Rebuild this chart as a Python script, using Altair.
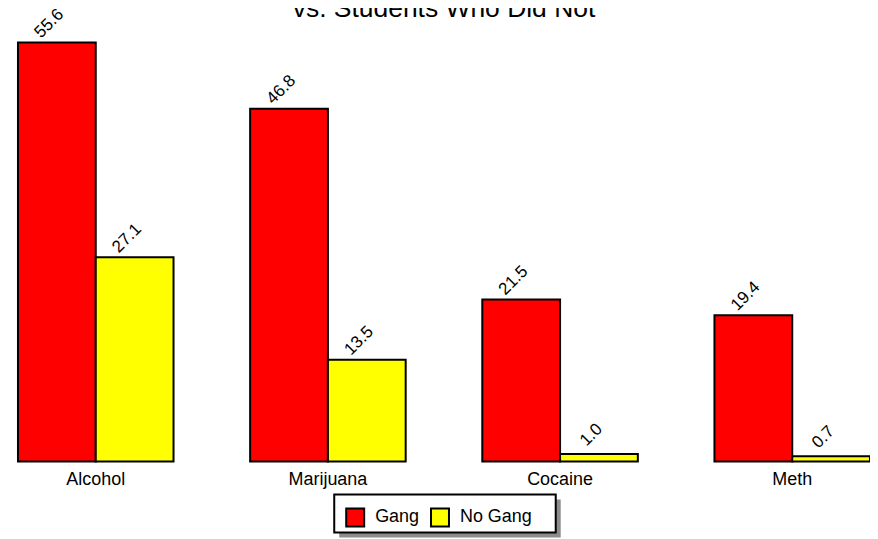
import altair as alt
import pandas as pd

categories = ["Alcohol", "Marijuana", "Cocaine", "Meth"]
gang = [55.6, 46.8, 21.5, 19.4]
no_gang = [27.1, 13.5, 1.0, 0.7]
groups = ["Gang", "No Gang"]
colors = ["#ff0000", "#ffff00"]
title_text = "vs. Students Who Did Not"

rows = []
for c, g, n in zip(categories, gang, no_gang):
    rows.append({"Category": c, "Group": groups[0], "Value": g})
    rows.append({"Category": c, "Group": groups[1], "Value": n})
df = pd.DataFrame(rows)

FONT = "Liberation Sans"
W, H = 854, 420

x_enc = alt.X(
    "Category:N",
    sort=categories,
    scale=alt.Scale(paddingInner=0.33, paddingOuter=0),
    axis=alt.Axis(
        title=None, labelAngle=0, ticks=False, tickSize=0, domain=False, grid=False,
        labelFontSize=18, labelFont=FONT, labelColor="black", labelPadding=9,
    ),
)
xoff = alt.XOffset("Group:N", sort=groups, scale=alt.Scale(paddingInner=0, paddingOuter=0))
y_enc = alt.Y("Value:Q", scale=alt.Scale(domain=[0, 55.6], nice=False, zero=True), axis=None)

base = alt.Chart(df)

bars = base.mark_bar(stroke="black", strokeWidth=2, opacity=1).encode(
    x=x_enc,
    xOffset=xoff,
    y=y_enc,
    color=alt.Color(
        "Group:N",
        sort=groups,
        scale=alt.Scale(domain=groups, range=colors),
        legend=alt.Legend(
            orient="none", legendX=318, legendY=456, direction="horizontal", title=None,
            padding=10,
            symbolType="square", symbolSize=324, symbolStrokeColor="black",
            symbolStrokeWidth=2, symbolOpacity=1,
            labelFontSize=18, labelFont=FONT, labelColor="black", labelOffset=10,
            columnPadding=7,
        ),
    ),
)

labels = base.mark_text(
    angle=315, align="center", baseline="middle", dx=8, dy=-19,
    fontSize=17, font=FONT, color="black",
).encode(
    x=x_enc,
    xOffset=xoff,
    y=y_enc,
    text=alt.Text("Value:Q", format=".1f"),
)

# legend frame decoration: drop shadow and white box
shadow = alt.Chart(alt.Data(values=[{}])).mark_rect(color="#8c8c8c").encode(
    x=alt.value(322), x2=alt.value(544), y=alt.value(458), y2=alt.value(496)
)
box = alt.Chart(alt.Data(values=[{}])).mark_rect(fill="white", stroke="black", strokeWidth=2).encode(
    x=alt.value(317), x2=alt.value(539), y=alt.value(453), y2=alt.value(491)
)

title = alt.Chart(alt.Data(values=[{}])).mark_text(
    text=title_text, fontSize=26.5, font=FONT, align="center", baseline="alphabetic", color="black"
).encode(x=alt.value(W / 2), y=alt.value(-26))

chart = alt.layer(shadow, box, bars, labels, title).properties(
    width=W,
    height=H,
    padding={"left": 10, "top": 34, "right": 0, "bottom": 76},
    autosize=alt.AutoSizeParams(type="none"),
).configure_view(strokeOpacity=0)

chart.save("out.html", embed_options={"renderer": "svg", "actions": False})
